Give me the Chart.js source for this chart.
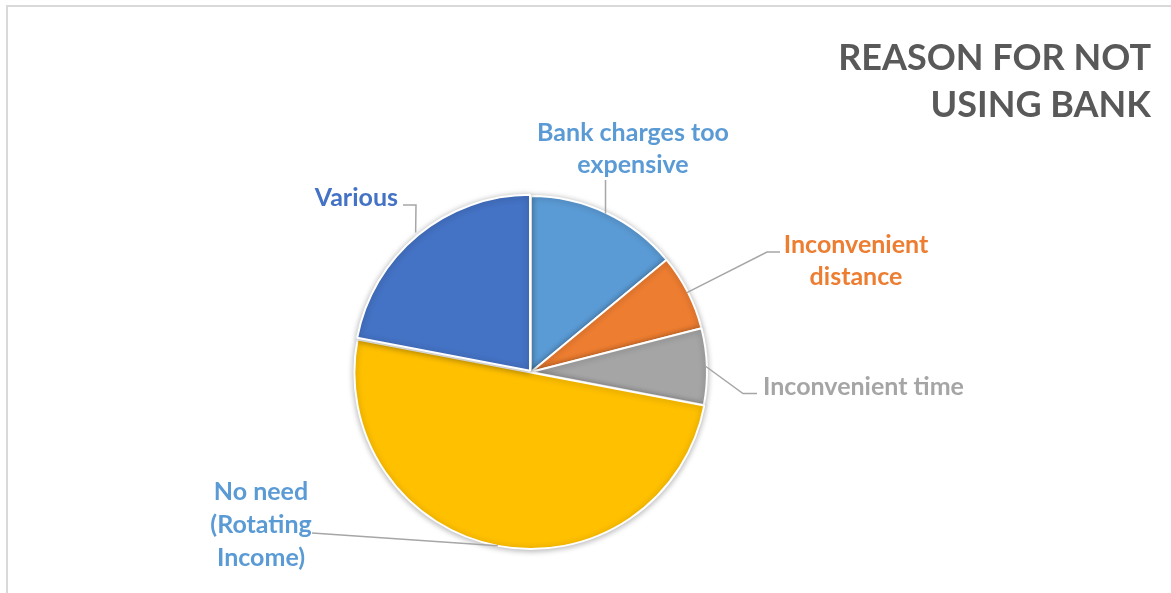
<!DOCTYPE html>
<html>
<head>
<meta charset="utf-8">
<script src="https://cdn.jsdelivr.net/npm/chart.js@4.4.1/dist/chart.umd.min.js"></script>
<style>
  html, body { margin: 0; padding: 0; background: #fff; overflow: hidden; }
  #wrap { position: relative; width: 1171px; height: 593px; }
  #frame { position: absolute; left: 6px; top: 5px; width: 1200px; height: 700px; border-left: 2px solid #d9d9d9; border-top: 2px solid #d9d9d9; }
  canvas { position: absolute; left: 0; top: 0; }
</style>
</head>
<body>
<div id="wrap">
  <div id="frame"></div>
  <canvas id="reasonChart" width="1171" height="593"></canvas>
</div>
<script>
const reasons = ['Bank charges too expensive', 'Inconvenient distance', 'Inconvenient time', 'No need (Rotating Income)', 'Various'];
const shares = [14, 7, 7, 50, 22];
const sliceColors = ['#5B9BD5', '#ED7D31', '#A5A5A5', '#FFC000', '#4472C4'];
const labelLines = [['Bank charges too', 'expensive'], ['Inconvenient', 'distance'], ['Inconvenient time'], ['No need', '(Rotating', 'Income)'], ['Various']];
const labelColors = ['#5B9BD5', '#ED7D31', '#A5A5A5', '#5B9BD5', '#4472C4'];
const titleLines = ['REASON FOR NOT', 'USING BANK'];

// where each callout sits, relative to the pie centre
const labelLayout = [
     { align: 'center', dx: 102, dy: -231, lh: 32, leader: [[null, -192]] },
     { align: 'center', dx: 325, dy: -119, lh: 32, leader: [[236, -120], [249, -120]] },
     { align: 'left', dx: 232, dy: 23, lh: 32, leader: [[212, 21.5], [226, 21.5]] },
     { align: 'center', dx: -270, dy: 128, lh: 33, leader: [[-219, 161]] },
     { align: 'right', dx: -133, dy: -166, lh: 32, leader: [[-115, -167], [-128, -167]] }
];

const shadowPlugin = {
     id: 'sliceShadow',
     beforeDatasetsDraw(chart) {
          const ctx = chart.ctx;
          ctx.save();
          ctx.shadowColor = 'rgba(0, 0, 0, 0.3)';
          ctx.shadowBlur = 6;
          ctx.shadowOffsetX = 0;
          ctx.shadowOffsetY = 1;
     },
     afterDatasetsDraw(chart) {
          chart.ctx.restore();
     }
};

const calloutPlugin = {
     id: 'callouts',
     afterDatasetsDraw(chart) {
          const ctx = chart.ctx;
          const arcs = chart.getDatasetMeta(0).data;

          arcs.forEach((arc, i) => {
               const { x, y, startAngle, endAngle, outerRadius } = arc.getProps(['x', 'y', 'startAngle', 'endAngle', 'outerRadius'], true);
               const mid = (startAngle + endAngle) / 2;
               const r = outerRadius + (arc.options.offset || 0) - 1;
               const ax = x + Math.cos(mid) * r;
               const ay = y + Math.sin(mid) * r;
               const spec = labelLayout[i];

               ctx.save();
               ctx.strokeStyle = '#a6a6a6';
               ctx.lineWidth = 1.5;
               ctx.beginPath();
               ctx.moveTo(ax, ay);
               spec.leader.forEach(p => ctx.lineTo(p[0] === null ? ax : x + p[0], y + p[1]));
               ctx.stroke();

               ctx.fillStyle = labelColors[i];
               ctx.font = 'bold 25px Lato';
               ctx.textAlign = spec.align;
               ctx.textBaseline = 'alphabetic';
               labelLines[i].forEach((t, k) => ctx.fillText(t, x + spec.dx, y + spec.dy + k * spec.lh));
               ctx.restore();
          });

          // title, right aligned in the top corner
          ctx.save();
          ctx.fillStyle = '#595959';
          ctx.font = 'bold 36px Lato';
          ctx.textAlign = 'right';
          ctx.textBaseline = 'alphabetic';
          titleLines.forEach((t, k) => ctx.fillText(t, 1151, 70 + k * 46.7));
          ctx.restore();
     }
};

const ctx = document.getElementById('reasonChart').getContext('2d');
window.reasonChartInstance = new Chart(ctx, {
     type: 'pie',
     data: {
          labels: reasons,
          datasets: [{
               data: shares,
               backgroundColor: sliceColors,
               borderColor: '#ffffff',
               borderWidth: 2,
               offset: [0, 0, 0, 2, 6],
               radius: 176
          }]
     },
     options: {
          responsive: false,
          animation: false,
          layout: { padding: { left: 300, right: 409, top: 180, bottom: 29 } },
          plugins: {
               legend: { display: false },
               title: { display: false },
               tooltip: { enabled: false }
          }
     },
     plugins: [shadowPlugin, calloutPlugin]
});
</script>
</body>
</html>
